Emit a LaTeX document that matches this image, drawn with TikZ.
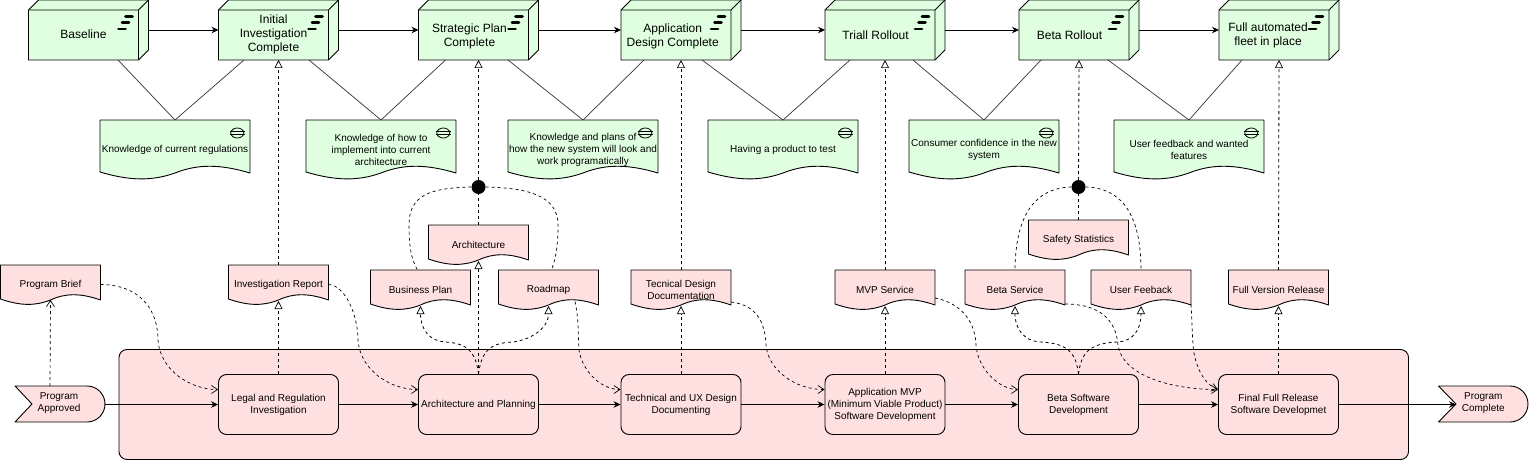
\documentclass[tikz,border=0pt]{standalone}
\usepackage{fontspec}
\setmainfont{Liberation Sans}
\usetikzlibrary{arrows.meta,calc}
\definecolor{pk}{HTML}{FFE0E0}
\definecolor{gn}{HTML}{E0FFE0}
\definecolor{conn}{HTML}{333333}
\tikzset{
  flow/.style={line width=0.9pt,-{Stealth[length=7pt,width=6.5pt]}},
  real/.style={line width=0.8pt,dash pattern=on 3pt off 3pt,-{Triangle[length=8pt,width=8pt,fill=white,line width=0.7pt,sep=0pt]}},
  plainreal/.style={line width=0.8pt,dash pattern=on 3pt off 3pt},
  access/.style={line width=0.7pt,dash pattern=on 3pt off 3pt,-{Straight Barb[length=6pt,width=8pt]}},
  assoc/.style={line width=0.7pt,conn},
  sm/.style={font=\fontsize{10}{12}\selectfont,align=center,inner sep=0pt},
  lg/.style={font=\fontsize{12}{14}\selectfont,align=center,inner sep=0pt},
  proc/.style={sm,draw,line width=0.9pt,fill=pk,rounded corners=8pt,minimum width=120pt,minimum height=60pt},
  frame/.style={inner sep=0pt,outer sep=0pt},
  junc/.style={circle,fill=black,inner sep=0pt,minimum size=14pt}
}
% name, x, dx, dy, text
\newcommand{\platbox}[5]{%
 \begin{scope}[shift={(#2,0)}]
  \draw[line width=0.9pt,fill=gn,line join=round] (0,10)--(10,0)--(120,0)--(120,50)--(110,60)--(0,60)--cycle;
  \draw[line width=0.9pt] (0,10)--(110,10)--(120,0) (110,10)--(110,60);
  \draw[line width=2.7pt,line cap=round] (97,16.7)--(104,16.7) (93.5,22.8)--(100.5,22.8) (90,29)--(97,29);
  \node[frame,minimum width=110pt,minimum height=50pt] (#1) at (55,35) {};
  \node[lg] (#1t) at (55+#3,35+#4) {#5};
 \end{scope}}
% name, x, y, w, h, b, amp, fill, text
\newcommand{\docbox}[9]{%
 \begin{scope}[shift={(#2,#3)}]
  \pgfmathsetmacro{\mwa}{0.2*#4}\pgfmathsetmacro{\mwb}{0.35*#4}\pgfmathsetmacro{\mwc}{0.5*#4}
  \pgfmathsetmacro{\mwd}{0.65*#4}\pgfmathsetmacro{\mwe}{0.8*#4}
  \pgfmathsetmacro{\myr}{#6+1}\pgfmathsetmacro{\mym}{#6+1}
  \pgfmathsetmacro{\myu}{#6-#7}\pgfmathsetmacro{\myd}{#6+#7+1}
  \draw[line width=0.9pt,fill=#8,line join=round] (0,0)--(#4,0)--(#4,\myr)
    .. controls (\mwe,\myu) and (\mwd,\myu) .. (\mwc,\mym)
    .. controls (\mwb,\myd) and (\mwa,\myd) .. (0,#6) -- cycle;
  \node[sm,frame,minimum width=#4 pt,minimum height=#5 pt] (#1) at (\mwc,#5/2) {#9};
 \end{scope}}
% name, x (left), w, notch, dx, text
\newcommand{\eventbox}[6]{%
 \begin{scope}[shift={(#2,386)}]
  \pgfmathsetmacro{\mws}{#3-18}
  \draw[line width=0.9pt,fill=pk,line join=round] (0,0)--(\mws,0) arc[start angle=90,end angle=-90,radius=18pt]
    --(0,36)--(#4,18)--cycle;
  \pgfmathsetmacro{\mwh}{#3/2}
  \node[frame,minimum width=#3 pt,minimum height=36pt] (#1) at (\mwh,18) {};
  \node[sm] (#1t) at (\mwh+#5,17) {#6};
 \end{scope}}
\begin{document}
\begin{tikzpicture}[x=1pt,y=-1pt]
\useasboundingbox (0,0) rectangle (1529,460);
% container
\draw[line width=0.9pt,fill=pk,rounded corners=8pt] (119,349.5) rectangle (1408.5,459.5);
% processes
\node[proc] (legal) at (278.5,404.5) {Legal and Regulation\\Investigation};
\node[proc] (arch) at (478.5,404.5) {Architecture and Planning};
\node[proc] (tech) at (681,404.5) {Technical and UX Design\\Documenting};
\node[proc] (mvp) at (885,404.5) {Application MVP\\(Minimum Viable Product)\\Software Development};
\node[proc] (beta) at (1078.5,404.5) {Beta Software\\Development};
\node[proc] (final) at (1278.5,404.5) {Final Full Release\\Software Developmet};
\eventbox{start}{15}{90}{17}{-1}{Program\\Approved}
\eventbox{stop}{1438.5}{89.5}{17.5}{0}{Program\\Complete}
% plateaus
\platbox{base}{28.5}{0}{-1}{Baseline}
\platbox{init}{218.5}{0}{-1}{Initial\\Investigation\\Complete}
\platbox{strat}{418.5}{-4}{1}{Strategic Plan\\Complete}
\platbox{appd}{621}{-3.3}{1}{Application\\Design Complete}
\platbox{trial}{825}{-4.4}{0.7}{Triall Rollout}
\platbox{brol}{1019}{-4.5}{0.7}{Beta Rollout}
\platbox{full}{1219}{-6}{0}{Full automated\\fleet in place}
% green documents
\docbox{k1}{100}{120}{150}{60}{52}{8}{gn}{Knowledge of current regulations}
\docbox{k2}{306}{120}{150}{60}{52}{8}{gn}{Knowledge of how to\\implement into current\\architecture}
\docbox{k3}{508}{120}{150}{60}{52}{8}{gn}{Knowledge and plans of\\how the new system will look and\\work programatically}
\docbox{k4}{708}{120}{150}{60}{52}{8}{gn}{Having a product to test}
\docbox{k5}{909}{120}{150}{60}{52}{8}{gn}{Consumer confidence in the new\\system}
\docbox{k6}{1114}{120}{150}{60}{52}{8}{gn}{User feedback and wanted\\features}
\foreach \k in {k1,k2,k3,k4,k5,k6}{
 \draw[line width=0.8pt] ([shift={(-12.7pt,-13pt)}]\k.north east) ellipse[x radius=6.5pt,y radius=5pt];
 \draw[line width=0.8pt] ([shift={(-20.4pt,-11.2pt)}]\k.north east) -- ([shift={(-5pt,-11.2pt)}]\k.north east)
   ([shift={(-20.4pt,-14.8pt)}]\k.north east) -- ([shift={(-5pt,-14.8pt)}]\k.north east);
}
% pink documents
\docbox{brief}{0.5}{265}{100}{39}{34}{6}{pk}{Program Brief}
\docbox{inv}{228.5}{265}{100}{39}{34}{6}{pk}{Investigation Report}
\docbox{bplan}{370.5}{270}{100}{39}{34}{6}{pk}{Business Plan}
\docbox{archd}{428.5}{225}{100}{39}{34}{6}{pk}{Architecture}
\docbox{road}{498.5}{270}{100}{39}{34}{6}{pk}{Roadmap}
\docbox{tdoc}{631}{270}{100}{39}{34}{6}{pk}{Tecnical Design\\Documentation}
\docbox{mserv}{835}{270}{100}{39}{34}{6}{pk}{MVP Service}
\docbox{bserv}{965}{270}{100}{39}{34}{6}{pk}{Beta Service}
\docbox{safe}{1028.5}{220}{100}{39}{34}{6}{pk}{Safety Statistics}
\docbox{ufeed}{1091}{270}{100}{39}{34}{6}{pk}{User Feeback}
\docbox{fver}{1228.5}{270}{100}{39}{34}{6}{pk}{Full Version Release}
% junctions
\node[junc] (j1) at (478.5,187) {};
\node[junc] (j2) at (1078.5,187) {};
% plateau flow
\foreach \a/\b in {base/init,init/strat,strat/appd,appd/trial,trial/brol,brol/full}{
 \draw[flow] ([shift={(10pt,5pt)}]\a.east) -- ([yshift=5pt]\b.west);
}
% associations
\draw[assoc] ([xshift=89.5pt]base.south west) -- (k1.north);
\draw[assoc] ([xshift=25.5pt]init.south west) -- (k1.north);
\draw[assoc] ([xshift=90.5pt]init.south west) -- (k2.north);
\draw[assoc] ([xshift=27pt]strat.south west) -- (k2.north);
\draw[assoc] ([xshift=89.5pt]strat.south west) -- (k3.north);
\draw[assoc] ([xshift=23pt]appd.south west) -- (k3.north);
\draw[assoc] ([xshift=81pt]appd.south west) -- (k4.north);
\draw[assoc] ([xshift=25pt]trial.south west) -- (k4.north);
\draw[assoc] ([xshift=88pt]trial.south west) -- (k5.north);
\draw[assoc] ([xshift=22pt]brol.south west) -- (k5.north);
\draw[assoc] ([xshift=89pt]brol.south west) -- (k6.north);
\draw[assoc] ([xshift=23pt]full.south west) -- (k6.north);
% process flow
\draw[flow] (start.east |- legal.west) -- (legal.west);
\draw[flow] (legal) -- (arch);
\draw[flow] (arch) -- (tech);
\draw[flow] (tech) -- (mvp);
\draw[flow] (mvp) -- (beta);
\draw[flow] (beta) -- (final);
\draw[flow] (final.east) -- ([xshift=17.5pt]stop.west |- final.east);
% realisation upward
\draw[access] ([xshift=-10pt]start.north) -- ([shift={(0pt,4pt)}]brief.south);
\draw[real] (legal.north) -- ([yshift=3pt]inv.south);
\draw[real] (inv.north) -- ([xshift=5pt]init.south);
\draw[real] (arch.north) -- ([yshift=3pt]archd.south);
\draw[plainreal] (archd.north) -- (j1);
\draw[real] (j1) -- ([xshift=5pt]strat.south);
\draw[real] (tech.north) -- ([yshift=3pt]tdoc.south);
\draw[real] (tdoc.north) -- ([xshift=5pt]appd.south);
\draw[real] (mvp.north) -- ([yshift=3pt]mserv.south);
\draw[real] (mserv.north) -- ([xshift=5pt]trial.south);
\draw[plainreal] (safe.north) -- (j2);
\draw[real] (j2) -- ([xshift=5pt]brol.south);
\draw[real] (final.north) -- ([yshift=3pt]fver.south);
\draw[real] (fver.north) -- ([xshift=5pt]full.south);
% fan-outs
\draw[real] (arch.north) .. controls (476,355) and (470,343) .. (445,342) .. controls (430,341) and (420.5,330) .. ([yshift=3pt]bplan.south);
\draw[real] (arch.north) .. controls (481,355) and (487,343) .. (512,342) .. controls (527,341) and (548.5,330) .. ([yshift=3pt]road.south);
\draw[real] (beta.north) .. controls (1076,355) and (1070,343) .. (1040,342) .. controls (1025,341) and (1015,330) .. ([yshift=3pt]bserv.south);
\draw[real] (beta.north) .. controls (1081,355) and (1087,343) .. (1118,342) .. controls (1133,341) and (1141,330) .. ([yshift=3pt]ufeed.south);
% junction arcs
\draw[plainreal,line width=0.7pt] (j1.west) .. controls (430,188) and (409,195) .. (409,225) .. controls (409,250) and (412,260) .. ([xshift=-3pt]bplan.north);
\draw[plainreal,line width=0.7pt] (j1.east) .. controls (527,188) and (558,195) .. (558,225) .. controls (558,250) and (555,260) .. ([xshift=3pt]road.north);
\draw[plainreal,line width=0.7pt] (j2.west) .. controls (1035,188) and (1015.5,215) .. (bserv.north);
\draw[plainreal,line width=0.7pt] (j2.east) .. controls (1122,188) and (1141,215) .. (ufeed.north);
% S-curves
\draw[access] (brief.east) .. controls (145,285) and (158,315) .. (158,340) .. controls (160,370) and (190,389.5) .. ([yshift=15pt]legal.west);
\draw[access] (inv.east) .. controls (345,285) and (358,315) .. (358,340) .. controls (360,370) and (390,389.5) .. ([yshift=15pt]arch.west);
\draw[access] ([shift={(-23.5pt,-12pt)}]road.east) .. controls (579,320) and (578,335) .. (579,350) .. controls (582,370) and (600,389.5) .. ([yshift=15pt]tech.west);
\draw[access] ([yshift=-12.5pt]tdoc.east) .. controls (755,305) and (765,320) .. (766,345) .. controls (768,370) and (795,389.5) .. ([yshift=15pt]mvp.west);
\draw[access] ([yshift=-8.5pt]mserv.east) .. controls (960,303) and (975,320) .. (976,345) .. controls (978,370) and (1000,389.5) .. ([yshift=15pt]beta.west);
\draw[access] ([yshift=-14.5pt]bserv.east) .. controls (1100,304) and (1116,320) .. (1118,345) .. controls (1122,375) and (1170,389.5) .. ([yshift=15pt]final.west);
\draw[access] ([yshift=-15pt]ufeed.east) .. controls (1192,320) and (1192,335) .. (1193.5,350) .. controls (1196,368) and (1205,385) .. ([yshift=15pt]final.west);
\end{tikzpicture}
\end{document}
